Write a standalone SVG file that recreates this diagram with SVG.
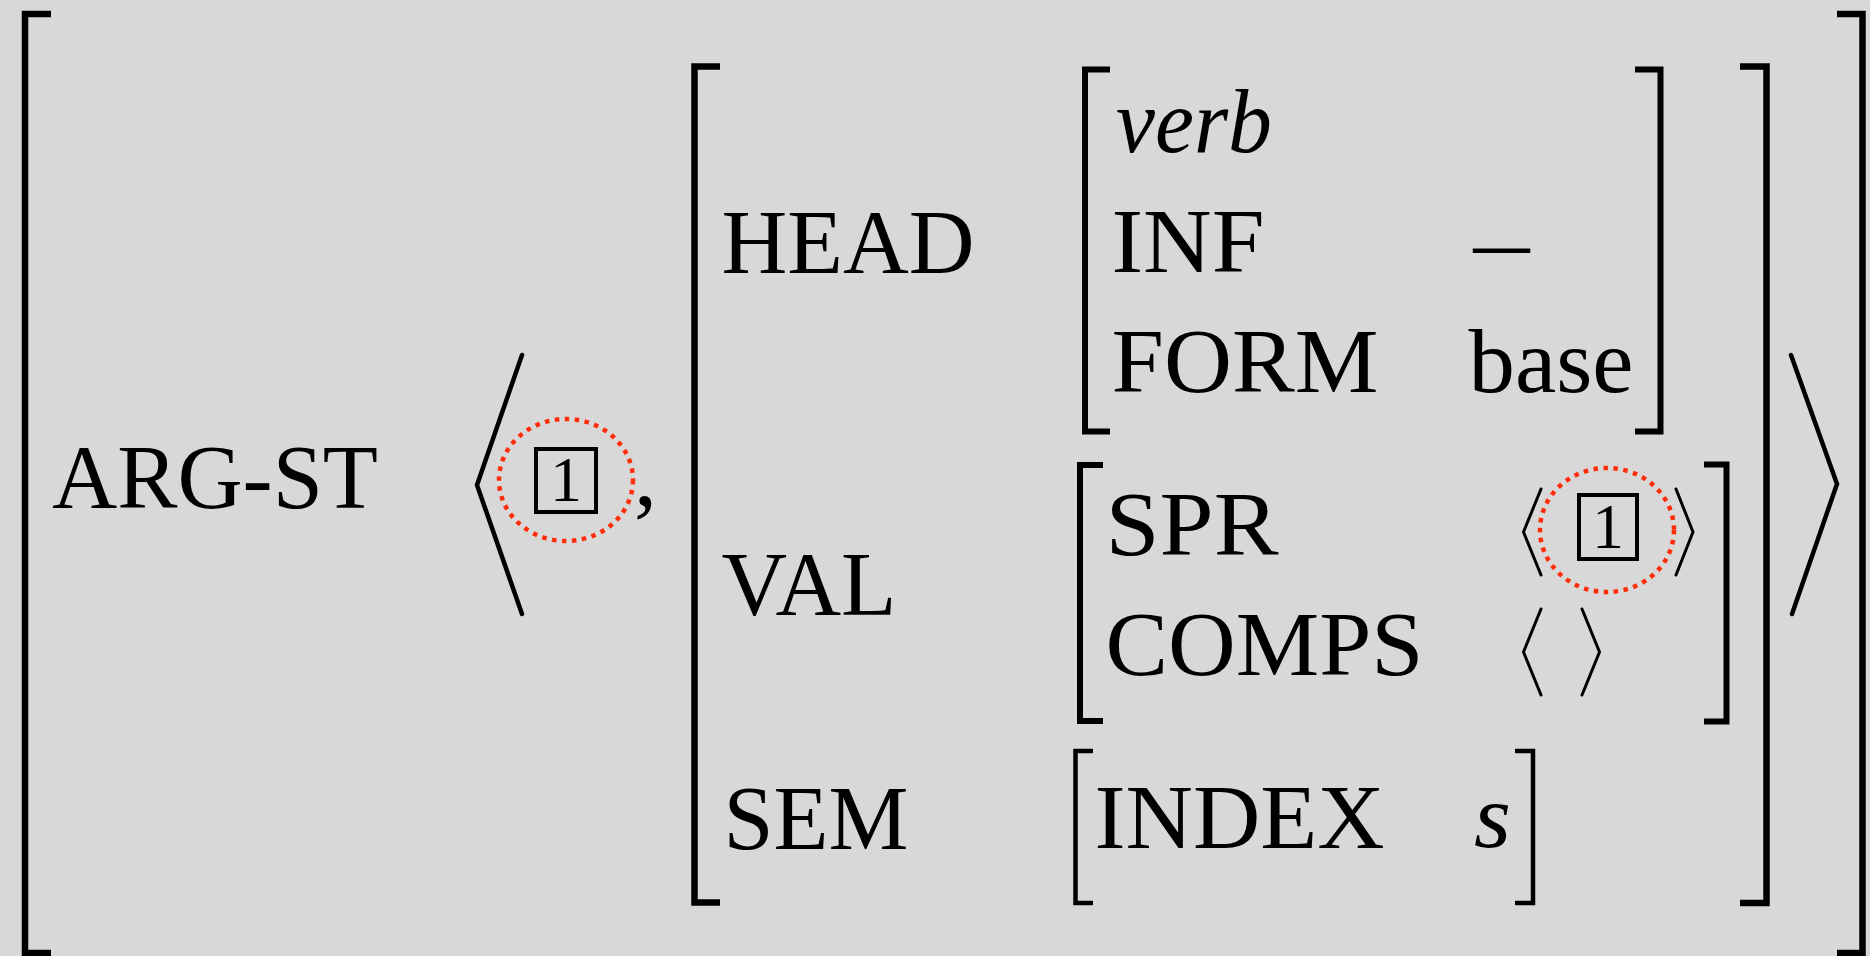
<svg xmlns="http://www.w3.org/2000/svg" width="1870" height="956" viewBox="0 0 1870 956">
<style>
.bg{fill:#d8d8d8}
.t{font-family:"Liberation Serif","Times New Roman",serif;font-size:92px;fill:#000}
.it{font-style:italic}
.d{font-family:"Liberation Serif","Times New Roman",serif;font-size:64px;fill:#000;text-anchor:middle}
.br{fill:none;stroke:#000;stroke-width:6;stroke-linejoin:miter;stroke-linecap:butt}
.br-thin{fill:none;stroke:#000;stroke-width:4.5;stroke-linejoin:miter;stroke-linecap:butt}
.ang{fill:none;stroke:#000;stroke-width:4.5;stroke-linecap:round;stroke-linejoin:miter}
.ang-s{fill:none;stroke:#000;stroke-width:3;stroke-linecap:round;stroke-linejoin:miter}
.box{fill:none;stroke:#000;stroke-width:4}
.hl{fill:none;stroke:#ff2d0a;stroke-width:4.5;stroke-dasharray:4.5 5.5}
</style>
<rect class="bg" x="0" y="0" width="1870" height="956"/>

<g id="outer-avm">
  <path class="br" d="M51,14 H25 V953 H51" style="stroke-width:6.5"/>
  <path class="br" d="M1837,14 H1862.5 V953 H1837" style="stroke-width:6.5"/>
  <text class="t" x="52" y="508" textLength="326" lengthAdjust="spacingAndGlyphs">ARG-ST</text>
</g>

<g id="arg-st-list">
  <polyline class="ang" points="522,355 477,485 522,614"/>
  <polyline class="ang" points="1791,355 1837,484 1792,614"/>
  <g id="tag1-first">
    <rect class="box" x="536" y="449" width="60" height="63"/>
    <text class="d" x="566" y="501">1</text>
    <ellipse class="hl" cx="566" cy="480" rx="67" ry="61"/>
  </g>
  <text class="t" x="634" y="505">,</text>
</g>

<g id="synsem-avm">
  <path class="br" d="M720,66.5 H694.5 V902.5 H720" style="stroke-width:6.5"/>
  <path class="br" d="M1740,66.5 H1766.5 V903 H1740" style="stroke-width:6.5"/>
</g>

<g id="head">
  <text class="t" x="721.5" y="273" textLength="253" lengthAdjust="spacingAndGlyphs">HEAD</text>
  <path class="br" d="M1110,69.5 H1085 V431.5 H1110"/>
  <path class="br" d="M1635,69.5 H1660.5 V431.5 H1635"/>
  <text class="t it" x="1116" y="152" textLength="156" lengthAdjust="spacingAndGlyphs">verb</text>
  <text class="t" x="1111.5" y="272" textLength="153" lengthAdjust="spacingAndGlyphs">INF</text>
  <text class="t" x="1473.5" y="272" textLength="56" lengthAdjust="spacingAndGlyphs">–</text>
  <text class="t" x="1111.5" y="392" textLength="267" lengthAdjust="spacingAndGlyphs">FORM</text>
  <text class="t" x="1468.5" y="392" textLength="165" lengthAdjust="spacingAndGlyphs">base</text>
</g>

<g id="val">
  <text class="t" x="721.5" y="615" textLength="175" lengthAdjust="spacingAndGlyphs">VAL</text>
  <path class="br" d="M1103,465 H1080 V721 H1103"/>
  <path class="br" d="M1704,464.5 H1726.5 V721.5 H1704"/>
  <text class="t" x="1105.5" y="555" textLength="173" lengthAdjust="spacingAndGlyphs">SPR</text>
  <text class="t" x="1105.5" y="675" textLength="318" lengthAdjust="spacingAndGlyphs">COMPS</text>
  <g id="spr-value">
    <polyline class="ang-s" points="1541,489 1523.5,532 1541,575"/>
    <polyline class="ang-s" points="1676,489 1693,532 1676,575"/>
    <g id="tag1-second">
      <rect class="box" x="1579" y="495" width="58" height="64"/>
      <text class="d" x="1608" y="548">1</text>
      <ellipse class="hl" cx="1607" cy="530" rx="67" ry="62"/>
    </g>
  </g>
  <g id="comps-value">
    <polyline class="ang-s" points="1541,609 1523.5,652 1541,695"/>
    <polyline class="ang-s" points="1582,609 1599.5,652 1582,695"/>
  </g>
</g>

<g id="sem">
  <text class="t" x="723.5" y="849" textLength="185" lengthAdjust="spacingAndGlyphs">SEM</text>
  <path class="br-thin" d="M1093,751 H1075.5 V903 H1093"/>
  <path class="br-thin" d="M1515,751 H1533 V903 H1515"/>
  <text class="t" x="1094.5" y="848" textLength="290" lengthAdjust="spacingAndGlyphs">INDEX</text>
  <text class="t it" x="1474" y="847" textLength="37" lengthAdjust="spacingAndGlyphs">s</text>
</g>

<g id="connectors"/>
</svg>
